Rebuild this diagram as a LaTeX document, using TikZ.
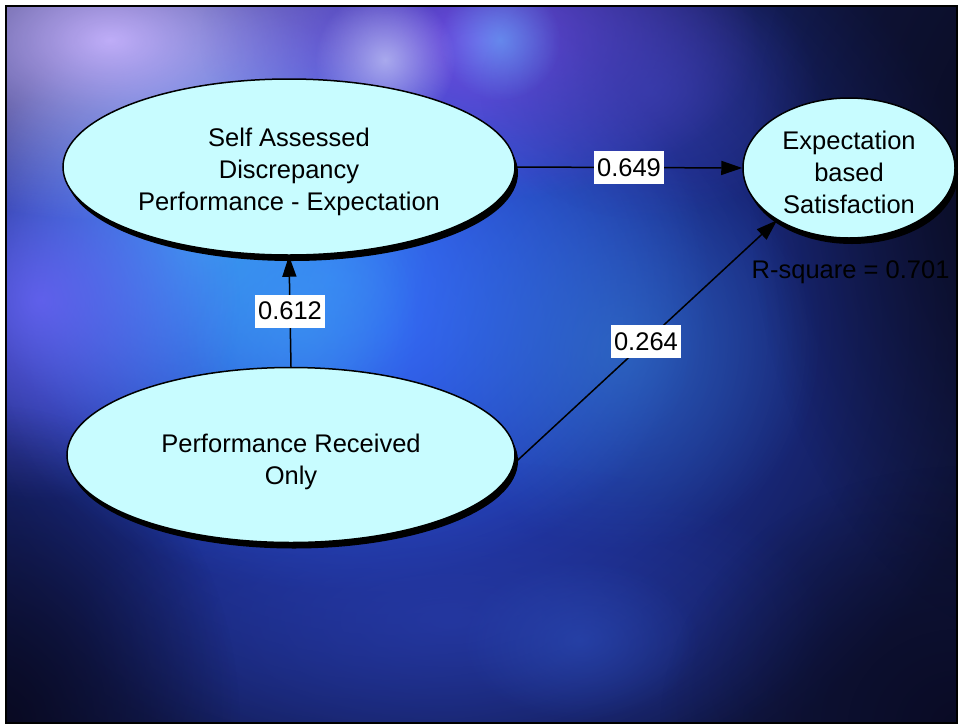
\documentclass[tikz,border=0pt]{standalone}
\usepackage{fontspec}
\setmainfont{Liberation Sans}
\usetikzlibrary{shapes.geometric,arrows.meta,shadows,fadings}

\tikzfading[name=glowfade, inner color=transparent!0, outer color=transparent!100]

\definecolor{nodefill}{HTML}{C8FCFF}
\definecolor{basebg}{HTML}{10163E}

% invisible rule that sets the height of a first text line
\newcommand{\toprule}[1]{\rule{0pt}{#1}}

\tikzset{
  latent/.style={ellipse, draw=black, line width=1.5pt, fill=nodefill,
    inner sep=0pt, align=center, font=\fontsize{25.5}{32}\selectfont,
    drop shadow={shadow xshift=3pt, shadow yshift=-6pt, fill=black, opacity=1}},
  path/.style={draw=black, line width=1.5pt, -{Triangle[length=21pt,width=14pt]}},
  coef/.style={fill=white, inner xsep=3.5pt, inner ysep=0pt, text height=25pt, text depth=8pt,
    font=\fontsize{25.5}{28}\selectfont},
  glow/.style={path fading=glowfade}
}

\begin{document}
\begin{tikzpicture}[x=1pt, y=-1pt]
\useasboundingbox (0,0) rectangle (960,726);

% textured backdrop
\begin{scope}
\clip (6,6) rectangle (957,723);
\fill[basebg] (0,0) rectangle (960,726);
\fill[glow, color={rgb,255:red,40;green,70;blue,225}] (390,330) ellipse [x radius=620, y radius=520];
\fill[glow, color={rgb,255:red,55;green,115;blue,245}] (330,280) ellipse [x radius=380, y radius=310];
\fill[glow, color={rgb,255:red,60;green,170;blue,245}, opacity=0.8] (200,230) circle (230);
\fill[glow, color={rgb,255:red,60;green,150;blue,240}, opacity=0.6] (300,320) circle (120);
\fill[glow, color={rgb,255:red,50;green,120;blue,200}, opacity=0.6] (620,350) circle (200);
\fill[glow, color={rgb,255:red,110;green,100;blue,250}, opacity=0.8] (40,300) circle (200);
\fill[glow, color={rgb,255:red,200;green,180;blue,255}, opacity=0.95] (110,40) ellipse [x radius=320, y radius=180];
\fill[glow, color={rgb,255:red,125;green,80;blue,240}, opacity=0.85] (480,40) ellipse [x radius=280, y radius=160];
\fill[glow, color={rgb,255:red,60;green,64;blue,180}, opacity=0.6] (650,90) ellipse [x radius=170, y radius=130];
\fill[glow, color={rgb,255:red,220;green,230;blue,255}, opacity=0.6] (385,60) circle (70);
\fill[glow, color={rgb,255:red,100;green,200;blue,255}, opacity=0.5] (500,40) circle (60);
\fill[glow, color={rgb,255:red,40;green,60;blue,170}, opacity=0.7] (450,620) ellipse [x radius=380, y radius=160];
\fill[glow, color={rgb,255:red,45;green,80;blue,190}, opacity=0.5] (580,640) ellipse [x radius=120, y radius=80];
\fill[glow, color={rgb,255:red,8;green,8;blue,24}, opacity=0.95] (1070,190) ellipse [x radius=320, y radius=460];
\fill[glow, color={rgb,255:red,8;green,8;blue,30}, opacity=0.9] (0,726) ellipse [x radius=240, y radius=320];
\fill[glow, color={rgb,255:red,8;green,8;blue,30}, opacity=0.8] (960,726) ellipse [x radius=300, y radius=260];
\end{scope}
\draw[black, line width=2pt] (6,6) rectangle (957,723);

% constructs
\node[latent, minimum width=452pt, minimum height=176pt] (sad) at (289,167)
  {\toprule{28pt}Self Assessed\\Discrepancy\\Performance - Expectation};
\node[latent, minimum width=448pt, minimum height=175pt] (pro) at (291,455)
  {\toprule{33pt}Performance Received\\Only};
\node[latent, minimum width=212pt, minimum height=140pt] (ebs) at (849,168)
  {\toprule{28pt}Expectation\\based\\Satisfaction};
\node[font=\fontsize{25.5}{28}\selectfont, anchor=east] (rsq) at (953,272) {R-square = 0.701};

% structural paths
\draw[path] (sad.east) -- node[coef] {0.649} (ebs.west);
\draw[path] (pro.north) -- node[coef] {0.612} (sad.south);
\draw[path] (pro.-2) -- node[coef, pos=0.5] {0.264} (ebs.216);
\end{tikzpicture}
\end{document}
